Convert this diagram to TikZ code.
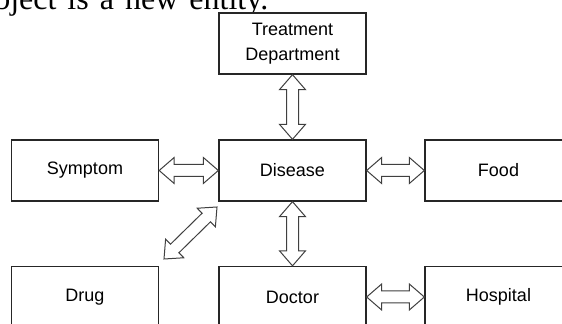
\documentclass[tikz,border=0pt]{standalone}
\usepackage{fontspec}
\setmainfont{Liberation Sans}
\newfontfamily\serifx{Liberation Serif}
\usetikzlibrary{calc}
\def\ahl{11.25pt}
\def\ahw{9.75pt}
\def\asw{4.5pt}
\newcommand{\dblarrow}[2]{%
  \draw[harrow] (#1)
    -- ($(#1)!\ahl!(#2)!\ahw!90:(#2)$)
    -- ($(#1)!\ahl!(#2)!\asw!90:(#2)$)
    -- ($(#2)!\ahl!(#1)!\asw!-90:(#1)$)
    -- ($(#2)!\ahl!(#1)!\ahw!-90:(#1)$)
    -- (#2)
    -- ($(#2)!\ahl!(#1)!\ahw!90:(#1)$)
    -- ($(#2)!\ahl!(#1)!\asw!90:(#1)$)
    -- ($(#1)!\ahl!(#2)!\asw!-90:(#2)$)
    -- ($(#1)!\ahl!(#2)!\ahw!-90:(#2)$)
    -- cycle;}
\tikzset{
  entity/.style={draw=black!85, line width=1pt, fill=white, minimum width=110.25pt,
    minimum height=45.75pt, inner sep=0pt, align=center,
    font=\fontsize{13.5}{18.75}\selectfont},
  harrow/.style={draw=black!75, line width=0.75pt, fill=white, line join=miter}
}
\begin{document}
\begin{tikzpicture}[x=0.75pt, y=-0.75pt]
\useasboundingbox (0,0) rectangle (562,324);
\clip (0,0) rectangle (562,324);
\fill[white] (0,0) rectangle (562,324);
\node[anchor=base west, inner sep=0pt, font=\serifx\fontsize{24}{28}\selectfont] (cap) at (-6,10)
  {\makebox[205.5pt][s]{bject is a new entity.}};
\node[entity] (td) at (292.5,43.5) {Treatment\\Department};
\node[entity] (dis) at (292.5,170.5) {Disease};
\node[entity] (sym) at (85,170.5) {Symptom};
\node[entity] (food) at (498.5,170.5) {Food};
\node[entity] (drug) at (85,297) {Drug};
\node[entity] (doc) at (292.5,297) {Doctor};
\node[entity] (hosp) at (498.5,297) {Hospital};
\coordinate (d1) at (164,259);
\coordinate (d2) at (217,207);
\dblarrow{td.south}{dis.north}
\dblarrow{sym.east}{dis.west}
\dblarrow{dis.east}{food.west}
\dblarrow{dis.south}{doc.north}
\dblarrow{doc.east}{hosp.west}
\dblarrow{d1}{d2}
\end{tikzpicture}
\end{document}
